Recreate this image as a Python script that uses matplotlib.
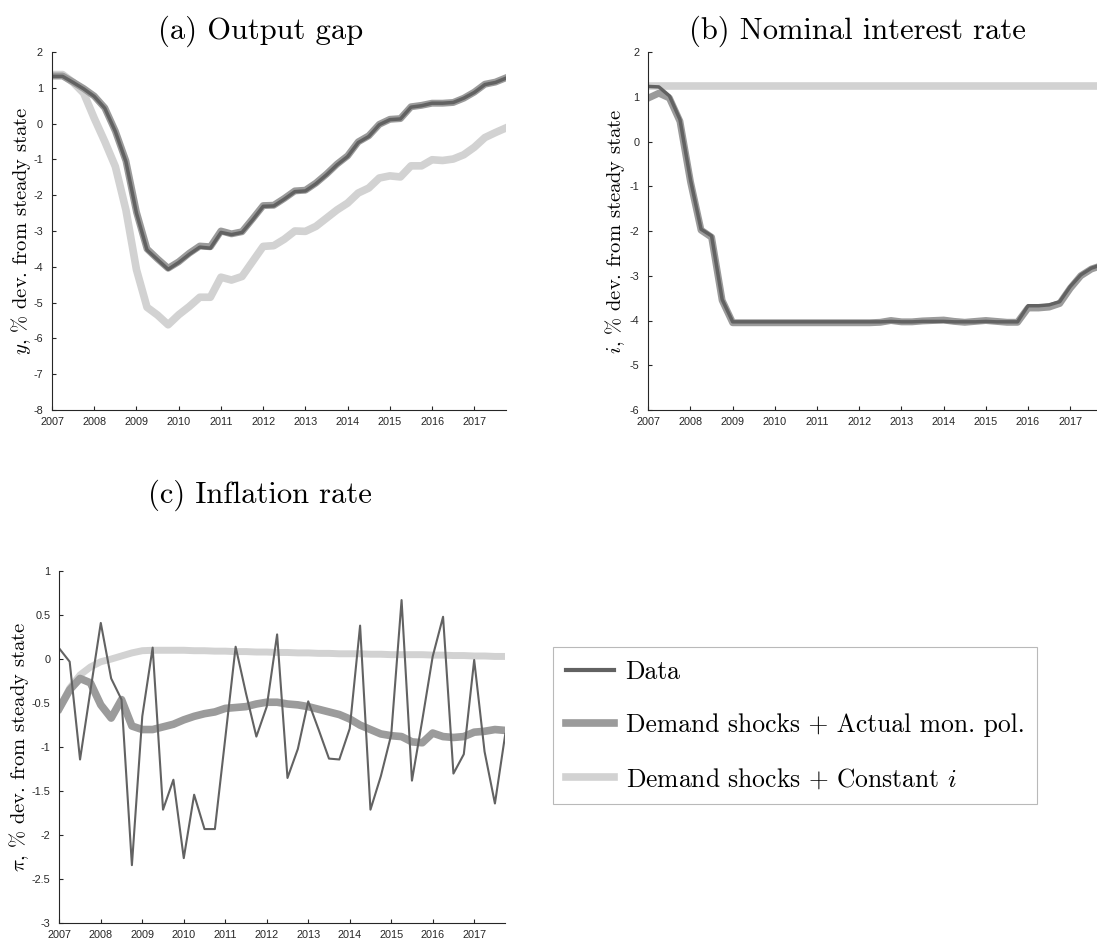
import numpy as np
import pandas as pd
import matplotlib
matplotlib.use('Agg')
import matplotlib.pyplot as plt
from matplotlib.ticker import FuncFormatter

plt.rcParams['mathtext.fontset'] = 'cm'
plt.rcParams['axes.unicode_minus'] = False

# quarterly sample 2007Q1 - 2017Q4
quarters = pd.period_range('2007Q1', '2017Q4', freq='Q')
t = quarters.year + (quarters.quarter - 1) / 4.0
year_ticks = list(range(2007, 2018))

# (a) output gap
y_data = [1.32, 1.32, 1.15, 0.97, 0.76, 0.43, -0.22, -1.06, -2.5, -3.53, -3.8, -4.07,
          -3.88, -3.65, -3.45, -3.48, -3.04, -3.1, -3.04, -2.69, -2.31, -2.3, -2.11, -1.9,
          -1.88, -1.68, -1.43, -1.15, -0.92, -0.53, -0.36, -0.03, 0.11, 0.13, 0.46, 0.5,
          0.57, 0.57, 0.59, 0.71, 0.87, 1.09, 1.15, 1.27]
y_actual = [1.33, 1.33, 1.16, 0.98, 0.77, 0.44, -0.21, -1.04, -2.47, -3.5, -3.78, -4.04,
            -3.86, -3.62, -3.42, -3.44, -3.0, -3.08, -3.02, -2.66, -2.29, -2.28, -2.09, -1.88,
            -1.86, -1.66, -1.41, -1.13, -0.9, -0.51, -0.34, -0.02, 0.12, 0.14, 0.47, 0.51,
            0.57, 0.57, 0.59, 0.71, 0.88, 1.1, 1.16, 1.28]
y_const = [1.37, 1.37, 1.15, 0.85, 0.15, -0.5, -1.2, -2.41, -4.08, -5.13, -5.35, -5.62,
           -5.34, -5.11, -4.85, -4.85, -4.29, -4.37, -4.27, -3.85, -3.43, -3.41, -3.23, -3.0,
           -3.01, -2.87, -2.64, -2.41, -2.22, -1.94, -1.8, -1.52, -1.46, -1.49, -1.18, -1.18,
           -1.01, -1.03, -0.99, -0.87, -0.66, -0.39, -0.25, -0.12]

# (b) nominal interest rate
i_data = [1.23, 1.22, 1.02, 0.49, -0.86, -1.96, -2.11, -3.53, -4.03, -4.03, -4.03, -4.03,
          -4.03, -4.03, -4.03, -4.03, -4.03, -4.03, -4.03, -4.03, -4.03, -4.03, -4.03, -4.02,
          -4.03, -4.03, -4.02, -4.02, -4.02, -4.03, -4.03, -4.03, -4.02, -4.03, -4.03, -4.03,
          -3.67, -3.67, -3.65, -3.58, -3.24, -2.98, -2.83, -2.75]
i_actual = [0.97, 1.08, 0.97, 0.45, -0.9, -1.98, -2.14, -3.55, -4.05, -4.05, -4.05, -4.05,
            -4.05, -4.05, -4.05, -4.05, -4.05, -4.05, -4.05, -4.05, -4.05, -4.05, -4.04, -4.0,
            -4.03, -4.03, -4.01, -4.0, -3.99, -4.02, -4.04, -4.02, -4.0, -4.02, -4.04, -4.04,
            -3.72, -3.72, -3.7, -3.62, -3.28, -3.0, -2.85, -2.77]
i_const = [1.23] * len(quarters)

# (c) inflation rate
pi_data = [0.12, -0.03, -1.14, -0.36, 0.41, -0.22, -0.46, -2.34, -0.65, 0.13, -1.71, -1.37,
           -2.26, -1.54, -1.93, -1.93, -0.9, 0.14, -0.39, -0.88, -0.54, 0.28, -1.35, -1.02,
           -0.48, -0.8, -1.13, -1.14, -0.79, 0.38, -1.71, -1.33, -0.86, 0.67, -1.38, -0.69,
           0.03, 0.48, -1.3, -1.08, -0.01, -1.05, -1.64, -0.85]
pi_actual = [-0.56, -0.35, -0.22, -0.27, -0.52, -0.67, -0.46, -0.76, -0.8, -0.8, -0.77, -0.74,
             -0.69, -0.65, -0.62, -0.6, -0.56, -0.55, -0.54, -0.51, -0.49, -0.49, -0.51, -0.52,
             -0.54, -0.57, -0.6, -0.63, -0.68, -0.75, -0.8, -0.85, -0.87, -0.88, -0.94, -0.95,
             -0.84, -0.88, -0.89, -0.88, -0.83, -0.82, -0.8, -0.81]
pi_const = [-0.56, -0.33, -0.18, -0.09, -0.03, 0.0, 0.035, 0.07, 0.095, 0.1, 0.1, 0.1,
            0.1, 0.095, 0.095, 0.09, 0.09, 0.085, 0.085, 0.08, 0.08, 0.075, 0.075, 0.07,
            0.07, 0.065, 0.065, 0.06, 0.06, 0.06, 0.055, 0.055, 0.05, 0.05, 0.05, 0.05,
            0.045, 0.045, 0.04, 0.04, 0.035, 0.035, 0.03, 0.03]

labels = ['Data', 'Demand shocks + Actual mon. pol.', r'Demand shocks + Constant $i$']

dark = '#626262'
mid = '#9b9b9b'
light = '#d2d2d2'
axcol = '#262626'

W, H = 1097.0, 940.0
fig = plt.figure(figsize=(W / 100, H / 100), dpi=100)

ax_a = fig.add_axes([52 / W, 1 - 410 / H, 454 / W, 358 / H])
ax_b = fig.add_axes([648.3 / W, 1 - 410 / H, 453.6 / W, 358 / H])
ax_c = fig.add_axes([59.3 / W, 1 - 923.3 / H, 446 / W, 352.3 / H])


def style(ax, ylim, yticks, ylabel, labelx):
    for s in ['top', 'right']:
        ax.spines[s].set_visible(False)
    for s in ['left', 'bottom']:
        ax.spines[s].set_color(axcol)
        ax.spines[s].set_linewidth(0.8)
    ax.set_xlim(2007, 2017.75)
    ax.set_ylim(*ylim)
    ax.set_xticks(year_ticks)
    ax.set_yticks(yticks)
    ax.xaxis.set_major_formatter(FuncFormatter(lambda v, p: '%d' % v))
    ax.yaxis.set_major_formatter(FuncFormatter(lambda v, p: '%g' % v))
    ax.tick_params(direction='in', length=3, width=0.8, color=axcol, labelcolor=axcol,
                   labelsize=7.8)
    ax.tick_params(axis='y', pad=6.5)
    ax.tick_params(axis='x', pad=5)
    for lab in ax.get_xticklabels() + ax.get_yticklabels():
        lab.set_family('Liberation Sans')
    ax.set_ylabel(ylabel, family='cmr10', fontsize=14.8, va='center')
    ax.yaxis.set_label_coords(labelx, 0.5)


# panel (a)
ax_a.plot(t, y_const, color=light, lw=5.5)
ax_a.plot(t, y_actual, color=mid, lw=5.0)
ax_a.plot(t, y_data, color=dark, lw=2.5)
style(ax_a, (-8, 2), range(-8, 3), r'$y$, % dev. from steady state', -0.068)

# panel (b)
ax_b.plot(t, i_const, color=light, lw=5.5)
ax_b.plot(t, i_actual, color=mid, lw=5.0)
ax_b.plot(t, i_data, color=dark, lw=2.5)
style(ax_b, (-6, 2), range(-6, 3), r'$i$, % dev. from steady state', -0.073)

# panel (c)
ax_c.plot(t, pi_const, color=light, lw=5.0)
ax_c.plot(t, pi_actual, color=mid, lw=5.5)
ax_c.plot(t, pi_data, color=dark, lw=1.5)
style(ax_c, (-3, 1), np.arange(-3, 1.01, 0.5), r'$\pi$, % dev. from steady state', -0.09)

# titles
fig.text(261 / W, 1 - 39 / H, '(a) Output gap', family='cmr10', fontsize=22,
         ha='center', va='baseline')
fig.text(857 / W, 1 - 39 / H, '(b) Nominal interest rate', family='cmr10', fontsize=22,
         ha='center', va='baseline')
fig.text(260 / W, 1 - 503 / H, '(c) Inflation rate', family='cmr10', fontsize=22,
         ha='center', va='baseline')

# legend
handles = [plt.Line2D([], [], color=dark, lw=3.0),
           plt.Line2D([], [], color=mid, lw=5.5),
           plt.Line2D([], [], color=light, lw=5.5)]
leg = fig.legend(handles, labels, loc='upper left', bbox_to_anchor=(553 / W, 1 - 647 / H),
                 prop={'family': 'cmr10', 'size': 18.4}, frameon=True, fancybox=False,
                 edgecolor='#a8a8a8', borderaxespad=0, handlelength=1.87,
                 handletextpad=0.47, labelspacing=1.16, borderpad=0.5)
leg.get_frame().set_linewidth(0.8)

fig.savefig('out.png', dpi=100)
